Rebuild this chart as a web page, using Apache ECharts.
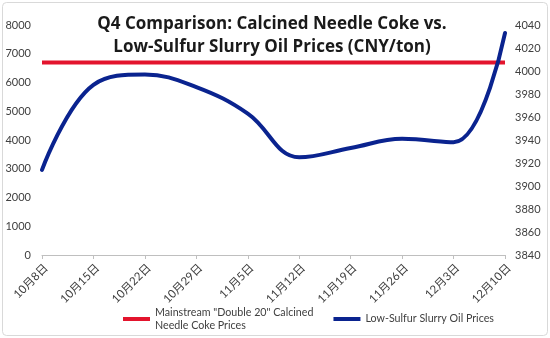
<!DOCTYPE html>
<html>
<head>
<meta charset="utf-8">
<script src="https://cdn.jsdelivr.net/npm/echarts@6/dist/echarts.min.js"></script>
<style>
  html, body { margin: 0; padding: 0; background: #fff; }
  #chart { width: 550px; height: 338px; }
</style>
</head>
<body>
<div id="chart"></div>
<script>
// Weekly dates in Q4
const categories = ['10月8日', '10月15日', '10月22日', '10月29日', '11月5日', '11月12日', '11月19日', '11月26日', '12月3日', '12月10日'];
// Mainstream "Double 20" calcined needle coke, CNY/ton (left axis)
const needleCokePrices = [6700, 6700, 6700, 6700, 6700, 6700, 6700, 6700, 6700, 6700];
// Low-sulfur slurry oil, CNY/ton (right axis)
const slurryOilPrices = [3914, 3988, 3997, 3986, 3963, 3925, 3933, 3941, 3938, 4033];

const seriesNames = ['Mainstream "Double 20" Calcined\nNeedle Coke Prices', 'Low-Sulfur Slurry Oil Prices'];
const titleText = 'Q4 Comparison: Calcined Needle Coke vs.\nLow-Sulfur Slurry Oil Prices (CNY/ton)';

const FONT = '"Open Sans", "Noto Sans CJK SC", sans-serif';
const SMALL_FONT = 'Lato, "Noto Sans CJK SC", sans-serif';
const chart = echarts.init(document.getElementById('chart'), null, { renderer: 'canvas' });

chart.setOption({
  animation: false,
  backgroundColor: '#ffffff',
  graphic: [{
    type: 'rect',
    shape: { x: 2.5, y: 2.5, width: 545, height: 333, r: 4 },
    style: { fill: 'none', stroke: '#d9d9d9', lineWidth: 1 },
    z: -1
  }],
  title: {
    text: titleText,
    left: 267,
    top: 8,
    textAlign: 'center',
    textStyle: {
      fontFamily: FONT,
      fontSize: 17,
      fontWeight: 'bold',
      color: '#1a1a1a',
      lineHeight: 23
    }
  },
  legend: {
    left: 118,
    top: 301,
    itemWidth: 27,
    itemHeight: 4,
    itemGap: 20,
    icon: 'rect',
    textStyle: { fontFamily: SMALL_FONT, fontSize: 10.7, color: '#404040', lineHeight: 13 },
    data: seriesNames
  },
  grid: { left: 42, right: 45, top: 25, bottom: 83 },
  xAxis: {
    type: 'category',
    data: categories,
    boundaryGap: false,
    axisLine: { lineStyle: { color: '#bfbfbf', width: 1 } },
    axisTick: { show: true, length: 4, lineStyle: { color: '#bfbfbf' } },
    axisLabel: {
      rotate: 45,
      verticalAlign: 'top',
      fontFamily: SMALL_FONT,
      fontSize: 11.5,
      color: '#404040',
      margin: 7,
      interval: 0
    },
    splitLine: { show: false }
  },
  yAxis: [{
    type: 'value',
    min: 0,
    max: 8000,
    interval: 1000,
    axisLine: { show: false },
    axisTick: { show: false },
    splitLine: { show: false },
    axisLabel: { fontFamily: SMALL_FONT, fontSize: 11, color: '#404040', margin: 11, formatter: v => String(v) }
  }, {
    type: 'value',
    min: 3840,
    max: 4040,
    interval: 20,
    position: 'right',
    axisLine: { show: false },
    axisTick: { show: false },
    splitLine: { show: false },
    axisLabel: { fontFamily: SMALL_FONT, fontSize: 11, color: '#404040', margin: 10, formatter: v => String(v) }
  }],
  series: [{
    name: seriesNames[0],
    type: 'line',
    yAxisIndex: 0,
    data: needleCokePrices,
    showSymbol: false,
    lineStyle: { color: '#e3142d', width: 4 },
    itemStyle: { color: '#e3142d' }
  }, {
    name: seriesNames[1],
    type: 'line',
    yAxisIndex: 1,
    data: slurryOilPrices,
    smooth: 0.4,
    showSymbol: false,
    lineStyle: { color: '#0a238f', width: 4, cap: 'round' },
    itemStyle: { color: '#0a238f' }
  }]
});
</script>
</body>
</html>
